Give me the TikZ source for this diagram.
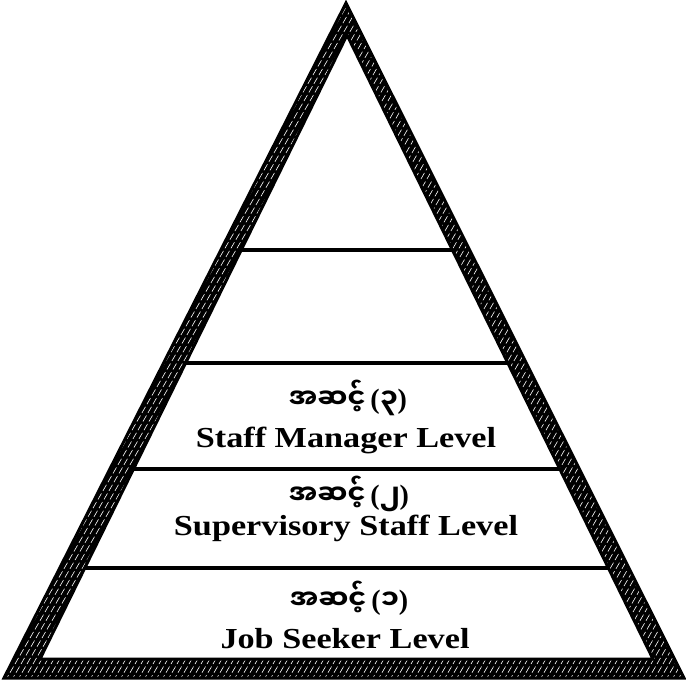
\documentclass[tikz,border=0pt]{standalone}
\usepackage{fontspec}
\setmainfont{Liberation Serif}
\newfontfamily\myanfont[Script=Myanmar]{Noto Sans Myanmar UI}
\newcommand{\lvlno}[1]{{\myanfont\fontsize{27}{29}\selectfont အဆင့်}\,({\myanfont\fontsize{27}{29}\selectfont #1})}
\usetikzlibrary{calc}

\begin{document}
\begin{tikzpicture}[x=1pt, y=-1pt]

 \useasboundingbox (0,0) rectangle (686,682);

  %%%%%%%%%% Points pour travailler %%%%%%%%%%
 \coordinate (0) at (346,3);
 \coordinate (1) at (4,678);
 \coordinate (2) at (684,678);
 \coordinate (3) at (347,35);
 \coordinate (4) at (40,659);
 \coordinate (5) at (653,659);

 \coordinate (6) at ($(3)!0.3446!(4)$);
 \coordinate (7) at ($(3)!0.3446!(5)$);
 \coordinate (8) at ($(3)!0.5256!(4)$);
 \coordinate (9) at ($(3)!0.5256!(5)$);
 \coordinate (10) at ($(3)!0.6955!(4)$);
 \coordinate (11) at ($(3)!0.6955!(5)$);
 \coordinate (12) at ($(3)!0.8542!(4)$);
 \coordinate (13) at ($(3)!0.8542!(5)$);

 % Separations
 \draw [line width=4, shorten <=-6, shorten >=-6] (6) -- (7) ;
 \draw [line width=4, shorten <=-6, shorten >=-6] (8) -- (9) ;
 \draw [line width=4, shorten <=-6, shorten >=-6] (10) -- (11) ;
 \draw [line width=4, shorten <=-6, shorten >=-6] (12) -- (13) ;

 %%%%%%%%%% Bord hachure %%%%%%%%%%
 \fill [black, even odd rule] (0) -- (1) -- (2) -- cycle (3) -- (4) -- (5) -- cycle ;
 \begin{scope}[even odd rule]
  \clip (0) -- (1) -- (2) -- cycle (3) -- (4) -- (5) -- cycle ;
  \foreach \k in {-420,-414,...,700}
  {
    \draw [white, line width=0.6, dash pattern=on 7 off 3] (\k,690) -- ++(400,-693) ;
  }
 \end{scope}
 \draw [line width=3, line join=miter] (0) -- (1) -- (2) -- cycle ;
 \draw [line width=3, line join=miter] (3) -- (4) -- (5) -- cycle ;

 %%%%%%%%%% Textes %%%%%%%%%%
 \node [anchor=base, font=\bfseries\fontsize{28}{30}\selectfont] (my3) at (348,408) {\lvlno{၃}} ;
 \node [anchor=base, xscale=1.18, font=\bfseries\fontsize{29}{31}\selectfont] (en3) at (346,447) {Staff Manager Level} ;

 \node [anchor=base, font=\bfseries\fontsize{28}{30}\selectfont] (my2) at (349,504) {\lvlno{၂}} ;
 \node [anchor=base, xscale=1.18, font=\bfseries\fontsize{29}{31}\selectfont] (en2) at (346,535) {Supervisory Staff Level} ;

 \node [anchor=base, font=\bfseries\fontsize{28}{30}\selectfont] (my1) at (349,609) {\lvlno{၁}} ;
 \node [anchor=base, xscale=1.18, font=\bfseries\fontsize{29}{31}\selectfont] (en1) at (345,648) {Job Seeker Level} ;

\end{tikzpicture}
\end{document}
